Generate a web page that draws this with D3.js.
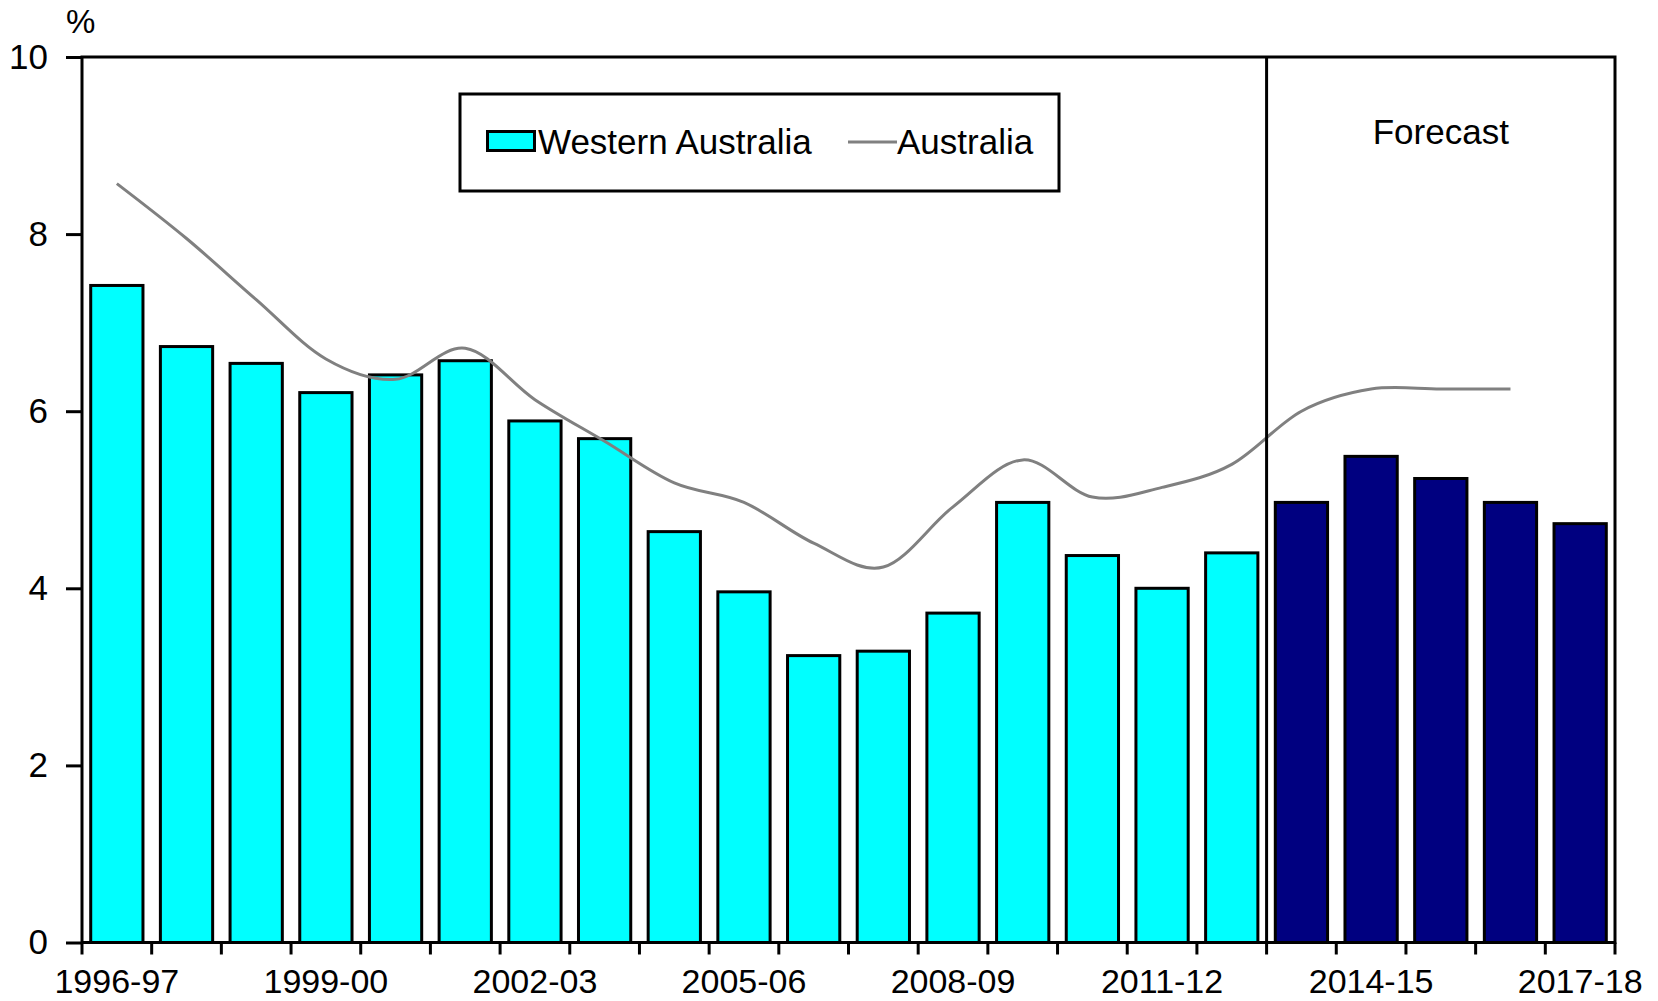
<!DOCTYPE html>
<meta charset="utf-8">
<script src="https://d3js.org/d3.v7.min.js"></script>
<style>
  body { margin: 0; background: #fff; }
  text { font-family: "Liberation Sans", Arial, sans-serif; fill: #000; }
</style>
<div id="chart"></div>
<script>
// financial years on the x axis
var years = ["1996-97","1997-98","1998-99","1999-00","2000-01","2001-02","2002-03","2003-04",
             "2004-05","2005-06","2006-07","2007-08","2008-09","2009-10","2010-11","2011-12",
             "2012-13","2013-14","2014-15","2015-16","2016-17","2017-18"];
// Western Australia (bars), %
var waValues = [7.42, 6.73, 6.54, 6.21, 6.41, 6.57, 5.89, 5.69, 4.64, 3.96, 3.24, 3.29,
                3.72, 4.97, 4.37, 4.00, 4.40, 4.97, 5.49, 5.24, 4.97, 4.73];
// Australia (line), %  - no value for last year
var ausValues = [8.57, 7.95, 7.26, 6.59, 6.36, 6.71, 6.13, 5.66, 5.19, 4.97, 4.51, 4.24,
                 4.92, 5.45, 5.03, 5.14, 5.40, 6.00, 6.25, 6.25, 6.25, null];
var forecastStart = "2013-14";
var xTickLabels = ["1996-97","1999-00","2002-03","2005-06","2008-09","2011-12","2014-15","2017-18"];
var yTicks = [0, 2, 4, 6, 8, 10];

var W = 1658, H = 1001;
var margin = {top: 57, right: 43, bottom: 58.5, left: 82};
var width = W - margin.left - margin.right,
    height = H - margin.top - margin.bottom;

var svg = d3.select("#chart").append("svg")
    .attr("width", W).attr("height", H)
  .append("g")
    .attr("transform", "translate(" + margin.left + "," + margin.top + ")");

var x = d3.scaleBand().domain(years).range([0, width])
    .paddingInner(0.25).paddingOuter(0.125);
var y = d3.scaleLinear().domain([0, 10]).range([height, 0]);
var step = x.step();

var fIdx = years.indexOf(forecastStart);

// bars
svg.append("g").selectAll("rect")
  .data(years)
  .enter().append("rect")
    .attr("x", function(d) { return x(d); })
    .attr("y", function(d, i) { return y(waValues[i]); })
    .attr("width", x.bandwidth())
    .attr("height", function(d, i) { return height - y(waValues[i]); })
    .style("fill", function(d, i) { return i >= fIdx ? "#000080" : "#00ffff"; })
    .style("stroke", "#000")
    .style("stroke-width", 3);

// australia line (smoothed like excel)
var line = d3.line()
    .defined(function(d) { return d[1] != null; })
    .x(function(d) { return x(d[0]) + x.bandwidth() / 2; })
    .y(function(d) { return y(d[1]); })
    .curve(d3.curveCardinal.tension(0));
svg.append("path")
    .datum(years.map(function(d, i) { return [d, ausValues[i]]; }))
    .attr("d", line)
    .style("fill", "none")
    .style("stroke", "#808080")
    .style("stroke-width", 3);

// forecast divider
var divX = x(forecastStart) - step * x.paddingInner() / 2;
svg.append("line")
    .attr("x1", divX).attr("x2", divX).attr("y1", 0).attr("y2", height)
    .style("stroke", "#000").style("stroke-width", 3);

// frame
svg.append("rect")
    .attr("x", 0).attr("y", 0).attr("width", width).attr("height", height)
    .style("fill", "none").style("stroke", "#000").style("stroke-width", 3);

// y axis
var yAxis = svg.append("g")
    .call(d3.axisLeft(y).tickValues(yTicks).tickSize(16).tickPadding(18));
yAxis.select(".domain").remove();
yAxis.selectAll(".tick line").style("stroke", "#000").style("stroke-width", 3);
yAxis.selectAll("text").style("font-size", "35px")
    .style("font-family", "'Liberation Sans', Arial, sans-serif");

// x axis: ticks at band boundaries, labels every third year
var bounds = years.map(function(d) { return x(d) - step * x.paddingInner() / 2; });
bounds.push(width);
var xg = svg.append("g").attr("transform", "translate(0," + height + ")");
xg.selectAll("line.tk")
  .data(bounds)
  .enter().append("line")
    .attr("x1", function(d) { return d; }).attr("x2", function(d) { return d; })
    .attr("y1", 0).attr("y2", 12)
    .style("stroke", "#000").style("stroke-width", 3);
xg.selectAll("text")
  .data(xTickLabels)
  .enter().append("text")
    .attr("x", function(d) { return x(d) + x.bandwidth() / 2; })
    .attr("y", 50)
    .attr("text-anchor", "middle")
    .style("font-size", "34px")
    .text(function(d) { return d; });

// % label
svg.append("text")
    .attr("x", -16).attr("y", -24)
    .style("font-size", "33px")
    .text("%");

// forecast label
svg.append("text")
    .attr("x", (divX + width) / 2).attr("y", 87)
    .attr("text-anchor", "middle")
    .style("font-size", "35px")
    .text("Forecast");

// legend
var lg = svg.append("g").attr("transform", "translate(" + (460 - margin.left) + "," + (94 - margin.top) + ")");
lg.append("rect")
    .attr("width", 599).attr("height", 97)
    .style("fill", "#fff").style("stroke", "#000").style("stroke-width", 3);
lg.append("rect")
    .attr("x", 27.5).attr("y", 37.5).attr("width", 47).attr("height", 19)
    .style("fill", "#00ffff").style("stroke", "#000").style("stroke-width", 3);
lg.append("text").attr("x", 78).attr("y", 60).style("font-size", "35px").text("Western Australia");
lg.append("line")
    .attr("x1", 388).attr("x2", 437).attr("y1", 48).attr("y2", 48)
    .style("stroke", "#808080").style("stroke-width", 3);
lg.append("text").attr("x", 437).attr("y", 60).style("font-size", "35px").text("Australia");
</script>
